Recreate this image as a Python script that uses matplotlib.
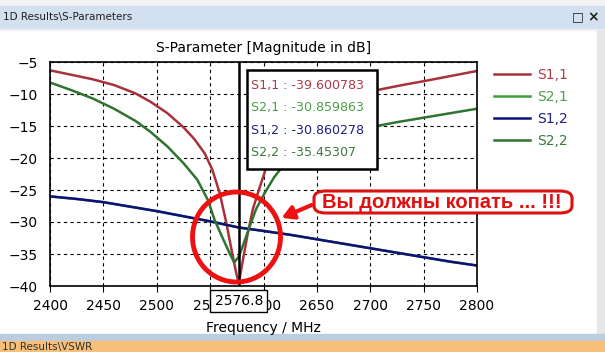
import numpy as np
import matplotlib
matplotlib.use("Agg")
import matplotlib.pyplot as plt
from matplotlib.patches import Rectangle, Ellipse, FancyBboxPatch

# S-parameter curves (MHz, dB)
f_s11 = [2400, 2420, 2440, 2460, 2480, 2494, 2510, 2525, 2535, 2545, 2552, 2559, 2565, 2570, 2574, 2576.8,
         2580, 2585, 2590, 2596, 2601, 2606, 2615, 2625, 2640, 2660, 2680, 2706, 2730, 2750, 2775, 2800]
s11 = [-6.3, -7.0, -7.7, -8.6, -9.9, -11.2, -13.0, -15.2, -17.0, -19.3, -21.8, -25.5, -30.0, -34.3, -37.6, -39.6,
       -36.6, -32.0, -28.0, -24.8, -22.3, -19.2, -16.4, -14.4, -12.5, -11.0, -10.2, -9.4, -8.6, -8.0, -7.2, -6.4]

f_s12 = [2400, 2425, 2450, 2475, 2500, 2525, 2550, 2576.8, 2600, 2625, 2650, 2675, 2700, 2725, 2750, 2775, 2800]
s12 = [-26.0, -26.4, -26.9, -27.6, -28.3, -29.1, -29.9, -30.86, -31.4, -32.0, -32.7, -33.4, -34.1, -34.8, -35.5,
       -36.2, -36.8]
f_s21 = f_s12
s21 = [-26.0, -26.4, -26.9, -27.6, -28.3, -29.1, -29.9, -30.86, -31.4, -32.0, -32.7, -33.4, -34.1, -34.8, -35.5,
       -36.2, -36.8]

f_s22 = [2400, 2420, 2440, 2460, 2480, 2494, 2510, 2525, 2538, 2548, 2554, 2562, 2568, 2572.5, 2576.8, 2580,
         2586, 2593, 2601, 2610, 2618, 2630, 2650, 2675, 2700, 2725, 2750, 2775, 2800]
s22 = [-8.2, -9.4, -10.7, -12.3, -14.2, -15.9, -18.2, -20.8, -23.4, -26.6, -29.6, -32.6, -34.8, -36.3, -35.45, -34.0,
       -31.2, -28.0, -25.5, -23.0, -21.3, -19.6, -17.9, -16.3, -15.2, -14.4, -13.7, -13.0, -12.3]

marker_f = 2576.8
marker_vals = ["S1,1 : -39.600783", "S2,1 : -30.859863", "S1,2 : -30.860278", "S2,2 : -35.45307"]
names = ["S1,1", "S2,1", "S1,2", "S2,2"]
colors = ["#a8323a", "#3a9e3a", "#10107a", "#2e7432"]
text_colors = ["#b03a48", "#48a048", "#202080", "#3a7a3a"]

W, H = 605, 352
fig = plt.figure(figsize=(W / 100, H / 100), dpi=100)
fig.patch.set_facecolor("white")


def fx(x):
    return x / W


def fy(y):
    return 1 - y / H


# window chrome
fig.add_artist(Rectangle((0, fy(30)), 1, 30 / H, transform=fig.transFigure, color="#f2f2f2", zorder=0))
fig.add_artist(Rectangle((0, fy(28)), 1, 22 / H, transform=fig.transFigure, color="#d3e0ef", zorder=0))
fig.text(fx(3), fy(17), "1D Results\\S-Parameters", fontsize=7.5, va="center", ha="left", color="#202020")
fig.text(fx(578), fy(17), "\u25a1", fontsize=9, va="center", ha="center", color="#202020")
fig.text(fx(593), fy(17), "\u00d7", fontsize=10, va="center", ha="center", color="#202020", weight="bold")
fig.add_artist(Rectangle((fx(597), fy(336)), 8 / W, 306 / H, transform=fig.transFigure, color="#e6e6e6", zorder=0))
fig.add_artist(Rectangle((0, fy(341)), 1, 7 / H, transform=fig.transFigure, color="#bccddf", zorder=0))
fig.add_artist(Rectangle((0, 0), 1, 11 / H, transform=fig.transFigure, color="#f7c07a", zorder=0))
fig.text(fx(2), fy(352), "1D Results\\VSWR", fontsize=7.5, va="bottom", ha="left", color="#303030")

ax = fig.add_axes([fx(50), fy(286), (477 - 50) / W, (286 - 62) / H])
ax.plot(f_s11, s11, color=colors[0], lw=1.8, label=names[0])
ax.plot(f_s21, s21, color=colors[1], lw=1.8, label=names[1])
ax.plot(f_s12, s12, color=colors[2], lw=1.8, label=names[2])
ax.plot(f_s22, s22, color=colors[3], lw=1.8, label=names[3])
ax.axvline(marker_f, color="black", lw=1.8)

ax.set_xlim(2400, 2800)
ax.set_ylim(-40, -5)
ax.set_xticks(np.arange(2400, 2801, 50))
ax.set_yticks(np.arange(-40, -4, 5))
ax.grid(True, color="black", linestyle=(0, (3, 3)), lw=0.8)
ax.tick_params(labelsize=10, length=4, pad=5, direction="out", left=False)
for s in ax.spines.values():
    s.set_linewidth(1.2)
ax.set_title("S-Parameter [Magnitude in dB]", fontsize=10, pad=7)
ax.set_xlabel("Frequency / MHz", fontsize=10, labelpad=6)

# marker value box
fig.add_artist(Rectangle((fx(247), fy(169)), 130 / W, 99 / H, transform=fig.transFigure,
                         fc="white", ec="black", lw=1.8, zorder=6))
for i, t in enumerate(marker_vals):
    fig.text(fx(251), fy(85 + i * 22.5), t, fontsize=9.1, va="center", ha="left", color=text_colors[i], zorder=7)

# marker frequency label
ax.text(marker_f, -41.3, "2576.8", fontsize=10, ha="center", va="top",
        bbox=dict(boxstyle="square,pad=0.3", fc="white", ec="black", lw=1), clip_on=False, zorder=5)

# legend
leg = ax.legend(loc="upper left", bbox_to_anchor=(1.01, 1.03), frameon=False, fontsize=10,
                handlelength=2.6, handletextpad=0.5, labelspacing=0.58)
for t, c in zip(leg.get_texts(), text_colors):
    t.set_color(c)

# red annotation
fig.add_artist(Ellipse((fx(236.5), fy(237)), 88 / W, 90 / H, transform=fig.transFigure,
                       fill=False, ec="#ee1111", lw=3.5, zorder=10))
fig.add_artist(FancyBboxPatch((fx(314), fy(213)), 258 / W, 22 / H, transform=fig.transFigure,
                              boxstyle="round,pad=0,rounding_size=0.02", fc="white", ec="#dd1111", lw=2.2, zorder=10))
fig.text(fx(442), fy(202), "Вы должны копать ... !!!", fontsize=14.5, weight="bold", color="#dd1111",
         family="Liberation Sans", ha="center", va="center", zorder=11)
ax.annotate("", xy=(fx(279), fy(219)), xytext=(fx(314), fy(204)), xycoords="figure fraction",
            textcoords="figure fraction",
            arrowprops=dict(arrowstyle="-|>,head_length=0.7,head_width=0.4", color="#ee1111", lw=3),
            zorder=10)

plt.savefig("out.png", dpi=100)
